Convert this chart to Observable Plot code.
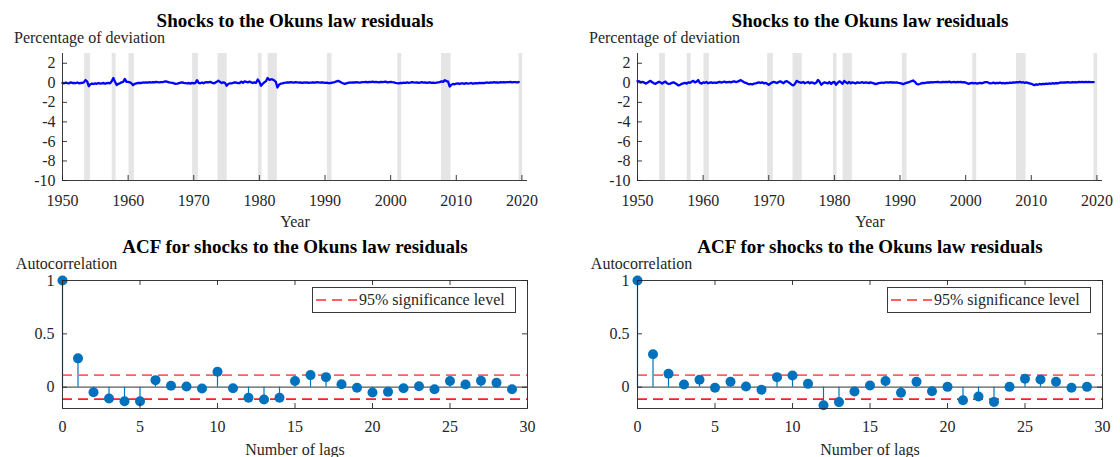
<!DOCTYPE html>
<html>
<head>
<meta charset="utf-8">
<script src="https://cdn.jsdelivr.net/npm/d3@7"></script>
<script src="https://cdn.jsdelivr.net/npm/@observablehq/plot@0.6"></script>
<style>
  html, body { margin: 0; padding: 0; background: #fff; }
  #wrap { position: relative; width: 1120px; height: 457px; overflow: hidden; background: #fff; }
  .panel { position: absolute; }
  .legend { position: absolute; box-sizing: border-box; height: 26px; border: 1px solid #3a3a3a; background: #fff;
            font-family: "Liberation Serif","Times New Roman",serif; font-size: 16px; color: #262626;
            display: flex; align-items: center; white-space: nowrap; }
  .legend svg { display: block; margin: 0 2px 0 3px; }
</style>
</head>
<body>
<div id="wrap"></div>
<script>
// ---------------- data ----------------
const startYear = 1950;          // quarterly observations from 1950Q1
const quartersPerYear = 4;

// Shocks to the Okun's law residuals, left panel (percentage of deviation)
const shocksLeft = [
  0.00,-0.05,0.02,-0.03,  -0.06,0.05,-0.02,0.00,  -0.04,0.03,-0.05,-0.02,  0.00,0.05,0.28,0.15,
  -0.35,-0.15,-0.08,-0.12, -0.05,-0.10,-0.02,-0.08, -0.05,-0.02,-0.10,-0.04, 0.00,-0.05,0.15,0.50,
  0.10,-0.22,-0.10,-0.05,  0.05,0.10,0.40,0.10,   0.10,0.05,-0.05,-0.24,  -0.10,-0.05,-0.02,0.00,
  -0.02,0.03,0.02,0.05,    0.02,0.06,0.03,0.08,   0.05,0.10,0.06,0.04,    0.08,0.06,0.12,0.15,
  0.10,0.05,0.02,0.00,     -0.05,-0.10,-0.08,-0.03, 0.02,0.05,0.00,-0.03, -0.05,-0.02,-0.08,0.00,
  -0.05,0.00,0.27,0.00,    -0.05,0.03,-0.05,0.05,  0.08,0.05,0.10,0.02,    -0.05,0.00,0.10,0.22,
  0.10,-0.02,0.05,0.00,    -0.30,-0.12,-0.05,-0.05, 0.00,0.05,0.02,-0.03, -0.02,0.12,0.00,0.15,
  0.10,0.05,0.12,0.05,     -0.02,0.05,0.00,0.34,   0.10,-0.30,-0.10,0.05,  0.15,0.50,0.30,0.35,
  0.35,0.25,0.10,-0.48,    -0.20,-0.08,-0.05,0.00, 0.02,0.05,0.03,0.06,    0.05,0.02,0.06,0.04,
  0.02,0.05,0.00,0.03,     0.01,0.04,0.00,0.02,    0.03,0.05,0.02,0.06,    0.04,0.02,0.05,0.03,
  0.00,0.02,-0.03,-0.02,   0.00,0.05,0.08,0.15,    0.20,0.12,0.02,-0.05,   -0.10,-0.05,0.00,0.03,
  0.02,0.05,0.03,0.06,     0.04,0.02,0.05,0.08,    0.06,0.09,0.05,0.10,    0.07,0.12,0.06,0.10,
  0.08,0.05,0.10,0.06,     0.09,0.12,0.05,0.08,    0.10,0.06,0.04,0.00,    -0.03,-0.05,0.00,-0.04,
  0.02,-0.02,0.05,0.00,    0.03,0.08,0.04,0.02,    0.05,0.00,0.03,0.06,    0.02,0.05,0.00,0.03,
  0.04,0.00,0.02,-0.02,    0.02,0.05,0.08,0.15,    0.10,0.27,0.18,0.12,    -0.38,-0.20,-0.12,-0.15,
  -0.08,-0.05,-0.12,-0.06, -0.05,-0.10,-0.04,-0.08, -0.06,-0.02,-0.08,-0.05, -0.03,-0.06,-0.01,-0.04,
  0.00,-0.03,0.02,0.03,    0.00,0.04,0.02,0.06,    0.03,0.05,0.02,0.06,    0.05,0.08,0.04,0.07,
  0.06,0.09,0.05,0.08,     0.07,0.05,0.08
];

// Shocks to the Okun's law residuals, right panel
const shocksRight = [
  0.17,0.15,0.05,0.10,     0.02,-0.08,0.00,0.12,   0.20,0.05,-0.05,-0.10,  0.00,0.10,0.05,-0.08,
  0.05,0.12,-0.05,-0.12,   -0.08,0.00,0.05,-0.05,  -0.15,-0.27,-0.20,-0.10, -0.05,0.00,-0.08,0.05,
  0.00,0.10,0.20,0.05,     0.12,0.28,0.00,-0.08,   0.05,0.00,0.08,-0.05,   0.02,0.05,-0.02,0.03,
  0.00,0.05,0.10,0.03,     0.06,0.12,0.05,0.08,    0.10,0.05,0.12,0.15,    0.08,0.12,0.20,0.27,
  0.15,0.05,0.00,-0.08,    -0.15,-0.12,-0.17,-0.08, -0.05,0.00,0.05,-0.02, 0.05,-0.05,0.00,-0.10,
  -0.20,-0.08,0.02,0.10,   0.05,-0.02,0.08,0.15,   0.05,-0.05,0.12,0.17,   0.05,-0.05,-0.20,-0.27,
  -0.10,0.20,0.10,0.05,    0.00,0.08,-0.05,0.03,   0.08,-0.05,0.05,0.00,   -0.08,0.02,0.30,0.10,
  -0.20,-0.05,0.05,0.00,   -0.05,0.08,-0.12,0.05,  0.10,-0.20,0.00,0.15,   0.05,-0.10,0.20,0.05,
  -0.05,0.10,-0.05,0.05,   0.00,-0.05,0.05,0.00,   0.03,0.06,-0.02,0.04,   0.02,-0.03,0.05,0.00,
  -0.05,-0.14,-0.08,-0.03, 0.00,0.03,-0.02,0.04,   0.05,0.02,0.06,0.03,    0.05,0.02,0.04,0.00,
  -0.03,-0.08,-0.14,-0.05, 0.00,0.05,0.10,0.18,    0.24,0.10,-0.10,-0.17,  -0.12,-0.05,0.00,-0.03,
  0.02,0.05,0.03,0.07,     0.05,0.08,0.06,0.10,    0.07,0.05,0.09,0.06,    0.10,0.07,0.12,0.05,
  0.08,0.10,0.05,0.09,     0.06,0.10,0.04,0.07,    0.02,-0.05,-0.10,-0.03, 0.00,-0.06,-0.02,-0.08,
  -0.04,0.00,-0.05,0.02,   0.06,0.08,0.00,-0.05,   -0.03,0.02,-0.06,0.00,  -0.04,0.02,-0.05,-0.02,
  -0.06,0.00,-0.04,0.03,   0.00,0.05,0.02,0.08,    0.05,0.10,0.03,0.06,    0.00,0.05,-0.02,-0.05,
  -0.10,-0.18,-0.24,-0.15, -0.20,-0.12,-0.16,-0.10, -0.14,-0.08,-0.12,-0.06, -0.10,-0.04,-0.08,-0.02,
  -0.05,0.00,0.04,0.02,    0.05,0.03,0.07,0.05,    0.02,0.06,0.04,0.08,    0.05,0.09,0.06,0.10,
  0.07,0.10,0.06,0.09,     0.06,0.08,0.07
];

// Recession shading (start / end, in years)
const recessionStart = [1953.37, 1957.57, 1960.13, 1969.83, 1973.70, 1979.85, 1981.33, 1990.36, 2001.09, 2007.74, 2019.56];
const recessionEnd   = [1954.25, 1958.17, 1960.95, 1970.70, 1975.10, 1980.40, 1982.73, 1991.07, 2001.68, 2009.20, 2020.10];

// ACF values, lags 0..29
const lags = [0,1,2,3,4,5,6,7,8,9,10,11,12,13,14,15,16,17,18,19,20,21,22,23,24,25,26,27,28,29];
const acfLeft = [1.00,0.27,-0.047,-0.107,-0.132,-0.132,0.066,0.013,0.006,-0.013,0.145,-0.010,-0.100,-0.116,-0.100,
                 0.057,0.113,0.094,0.028,-0.006,-0.050,-0.044,-0.010,0.009,-0.019,0.057,0.025,0.060,0.041,-0.019];
const acfRight = [1.00,0.308,0.126,0.025,0.069,-0.006,0.050,0.006,-0.025,0.094,0.110,0.031,-0.170,-0.140,-0.041,
                  0.016,0.057,-0.053,0.050,-0.038,0.003,-0.123,-0.088,-0.138,0.003,0.079,0.072,0.050,-0.006,0.003];
const significance = 0.113;   // 95% significance level (±)

// tick labels
const yearTicks = [1950, 1960, 1970, 1980, 1990, 2000, 2010, 2020];
const devTicks = [2, 0, -2, -4, -6, -8, -10];
const lagTicks = [0, 5, 10, 15, 20, 25, 30];
const acfTicks = [0, 0.5, 1];

const tsTitle = "Shocks to the Okuns law residuals";
const tsYLabel = "Percentage of deviation";
const tsXLabel = "Year";
const acfTitle = "ACF for shocks to the Okuns law residuals";
const acfYLabel = "Autocorrelation";
const acfXLabel = "Number of lags";
const legendLabel = "95% significance level";

// ---------------- drawing ----------------
const FONT = '"Liberation Serif","Times New Roman",serif';
const AX = "#262626";
const wrap = document.getElementById("wrap");

function place(node, left, top) {
  const d = document.createElement("div");
  d.className = "panel";
  d.style.left = left + "px";
  d.style.top = top + "px";
  d.appendChild(node);
  wrap.appendChild(d);
}

function tsPanel(values, width) {
  const H = 230, mL = 62, mR = width - 527, mT = 53, mB = 50;
  const pw = width - mL - mR, ph = H - mT - mB;
  const data = values.map((v, i) => ({t: startYear + i / quartersPerYear, v}));
  const rec = recessionStart.map((s, i) => ({s, e: recessionEnd[i]}));
  return Plot.plot({
    width, height: H, marginLeft: mL, marginRight: mR, marginTop: mT, marginBottom: mB,
    x: {domain: [1950, 2020.85]},
    y: {domain: [-10, 3]},
    style: {fontFamily: FONT, fontSize: "16px", color: AX, background: "transparent", overflow: "visible"},
    marks: [
      Plot.rect(rec, {x1: "s", x2: "e", fill: "#e5e5e5"}),
      Plot.line(data, {x: "t", y: "v", stroke: "#0000ff", strokeWidth: 2.3}),
      Plot.ruleX([yearTicks[0]], {stroke: AX, strokeWidth: 0.9}),
      Plot.ruleY([devTicks[devTicks.length - 1]], {stroke: AX, strokeWidth: 0.9}),
      Plot.tickX(yearTicks, {x: d => d, stroke: AX, strokeWidth: 0.9, insetTop: ph - 5}),
      Plot.tickY(devTicks, {y: d => d, stroke: AX, strokeWidth: 0.9, insetRight: pw - 5}),
      Plot.axisX({ticks: yearTicks, tickSize: 0, tickPadding: 14, fontSize: 16, tickFormat: d => String(d), label: null}),
      Plot.axisY({ticks: devTicks, tickSize: 0, tickPadding: 7, fontSize: 16, tickFormat: d => String(d), label: null}),
      Plot.text([tsTitle], {frameAnchor: "top", lineAnchor: "middle", dy: -32.5, fontSize: 19, fontWeight: "bold", fill: "#000"}),
      Plot.text([tsYLabel], {frameAnchor: "top-left", lineAnchor: "middle", textAnchor: "middle", dx: 27, dy: -15.7, fontSize: 16, fill: AX}),
      Plot.text([tsXLabel], {frameAnchor: "bottom", lineAnchor: "middle", dy: 41.7, fontSize: 16, fill: AX})
    ]
  });
}

function acfPanel(values, width) {
  const H = 227, mL = 62, mR = width - 527, mT = 50, mB = 49;
  const pw = width - mL - mR, ph = H - mT - mB;
  const data = values.map((v, i) => ({lag: lags[i], v}));
  return Plot.plot({
    width, height: H, marginLeft: mL, marginRight: mR, marginTop: mT, marginBottom: mB,
    x: {domain: [0, 30]},
    y: {domain: [-0.2, 1]},
    style: {fontFamily: FONT, fontSize: "16px", color: AX, background: "transparent", overflow: "visible"},
    marks: [
      Plot.ruleY([0], {stroke: "#5a5a5a", strokeWidth: 1.3}),
      Plot.ruleX(data, {x: "lag", y1: 0, y2: "v", stroke: "#0072BD", strokeWidth: 1.2}),
      Plot.ruleY([significance], {stroke: "#ff6161", strokeWidth: 1.8, strokeDasharray: "10,6"}),
      Plot.ruleY([-significance], {stroke: "#ff2020", strokeWidth: 1.8, strokeDasharray: "10,6"}),
      Plot.dot(data, {x: "lag", y: "v", r: 5, fill: "#0072BD", stroke: "none"}),
      Plot.frame({stroke: AX, strokeWidth: 0.9}),
      Plot.tickX(lagTicks, {x: d => d, stroke: AX, strokeWidth: 0.9, insetTop: ph - 5}),
      Plot.tickX(lagTicks, {x: d => d, stroke: AX, strokeWidth: 0.9, insetBottom: ph - 5}),
      Plot.tickY(acfTicks, {y: d => d, stroke: AX, strokeWidth: 0.9, insetRight: pw - 5}),
      Plot.tickY(acfTicks, {y: d => d, stroke: AX, strokeWidth: 0.9, insetLeft: pw - 5}),
      Plot.axisX({ticks: lagTicks, tickSize: 0, tickPadding: 12, fontSize: 16, tickFormat: d => String(d), label: null}),
      Plot.axisY({ticks: acfTicks, tickSize: 0, tickPadding: 8, fontSize: 16, tickFormat: d => String(d), label: null}),
      Plot.text([acfTitle], {frameAnchor: "top", lineAnchor: "middle", dy: -33.3, fontSize: 19, fontWeight: "bold", fill: "#000"}),
      Plot.text([acfYLabel], {frameAnchor: "top-left", lineAnchor: "middle", textAnchor: "middle", dx: 4, dy: -16.5, fontSize: 16, fill: AX}),
      Plot.text([acfXLabel], {frameAnchor: "bottom", lineAnchor: "middle", dy: 41, fontSize: 16, fill: AX})
    ]
  });
}

function legend(left, top) {
  const d = document.createElement("div");
  d.className = "legend";
  d.style.left = left + "px";
  d.style.top = top + "px";
  d.style.width = "204px";
  d.innerHTML = '<svg width="41" height="4"><line x1="0" y1="2" x2="41" y2="2" stroke="#ff6161" stroke-width="1.8" stroke-dasharray="10,6"/></svg>';
  const s = document.createElement("span");
  s.textContent = legendLabel;
  d.appendChild(s);
  wrap.appendChild(d);
}

place(tsPanel(shocksLeft, 560), 0, 0);
place(tsPanel(shocksRight, 545), 575, 0);
place(acfPanel(acfLeft, 560), 0, 230);
place(acfPanel(acfRight, 545), 575, 230);
legend(312, 287);
legend(887, 287);
</script>
</body>
</html>
